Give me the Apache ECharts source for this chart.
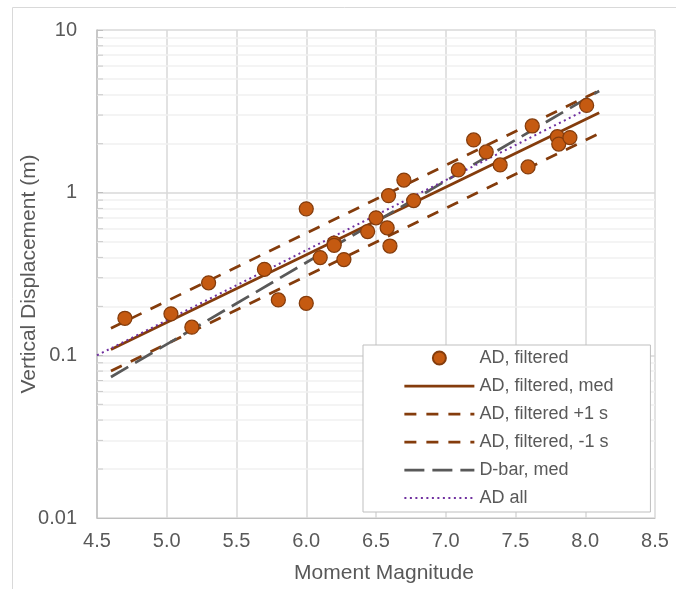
<!DOCTYPE html>
<html>
<head>
<meta charset="utf-8">
<script src="https://cdn.jsdelivr.net/npm/echarts@6/dist/echarts.min.js"></script>
<style>
  html, body { margin: 0; padding: 0; background: #fff; }
  #chart { width: 676px; height: 589px; }
</style>
</head>
<body>
<div id="chart"></div>
<script>
// AD, filtered points (moment magnitude, vertical displacement in m)
const adMw = [4.70, 5.03, 5.18, 5.30, 5.70, 5.80, 6.00, 6.00, 6.10, 6.20, 6.20, 6.27, 6.44, 6.50, 6.58, 6.59, 6.60, 6.70, 6.77, 7.09, 7.20, 7.29, 7.39, 7.59, 7.62, 7.80, 7.81, 7.89, 8.01];
const adDisp = [0.169, 0.180, 0.149, 0.279, 0.338, 0.219, 0.795, 0.209, 0.399, 0.49, 0.475, 0.388, 0.577, 0.700, 0.608, 0.959, 0.47, 1.196, 0.894, 1.38, 2.11, 1.78, 1.48, 1.44, 2.57, 2.21, 1.99, 2.18, 3.44];

// regression lines, read at their two ends
const medLine = [[4.6, 0.1085], [8.1, 3.10]];
const plusLine = [[4.6, 0.1467], [8.1, 4.24]];
const minusLine = [[4.6, 0.080], [8.1, 2.31]];
const dbarLine = [[4.6, 0.0736], [8.1, 4.22]];
const allLine = [[4.5, 0.100], [8.0, 3.22]];

// log axis minor gridlines / ticks
const minorY = [0.02, 0.03, 0.04, 0.05, 0.06, 0.07, 0.08, 0.09,
  0.2, 0.3, 0.4, 0.5, 0.6, 0.7, 0.8, 0.9,
  2, 3, 4, 5, 6, 7, 8, 9];

const font = "'Liberation Sans', Arial, sans-serif";
const textGrey = '#595959';
const brown = '#843c0c';

const styles = {
  med: { color: brown, width: 2.75, type: 'solid' },
  plus: { color: brown, width: 2.75, type: [12, 10] },
  minus: { color: brown, width: 2.75, type: [12, 10] },
  dbar: { color: '#595959', width: 2.75, type: [20, 8] },
  all: { color: '#7030a0', width: 2, type: [2, 3.5] },
};

const chart = echarts.init(document.getElementById('chart'));

const lineSeries = (name, data, lineStyle) => ({
  name,
  type: 'line',
  data,
  symbol: 'none',
  silent: true,
  z: 3,
  lineStyle,
  itemStyle: { color: lineStyle.color },
});

// plain stroke icon for the legend (line + invisible height so it fills the item box)
const lineIcon = 'path://M0,0L70,0M0,-6.5L0,-6.5M0,6.5L0,6.5';
const legendLine = (name, s) => ({
  name,
  icon: lineIcon,
  itemStyle: { color: 'transparent', borderColor: s.color, borderWidth: s.width, borderType: s.type },
});

chart.setOption({
  animation: false,
  textStyle: { fontFamily: font },
  graphic: [{
    type: 'rect',
    shape: { x: 12.5, y: 7.5, width: 700, height: 700 },
    style: { fill: 'none', stroke: '#d9d9d9', lineWidth: 1 },
    silent: true,
  }],
  grid: { left: 97, right: 21, top: 30, bottom: 69 },
  xAxis: {
    type: 'value',
    min: 4.5,
    max: 8.5,
    interval: 0.5,
    name: 'Moment Magnitude',
    nameLocation: 'middle',
    nameGap: 45,
    nameMoveOverlap: false,
    nameTextStyle: { fontSize: 21, color: textGrey, fontFamily: font, padding: [0, 0, 0, 16] },
    axisLine: { show: true, onZero: false, lineStyle: { color: '#bfbfbf' } },
    axisTick: { show: false },
    axisLabel: { fontSize: 20, color: textGrey, margin: 13, formatter: (v) => v.toFixed(1) },
    splitLine: { show: true, lineStyle: { color: '#d9d9d9', width: 1.5 } },
  },
  yAxis: {
    type: 'log',
    logBase: 10,
    min: 0.01,
    max: 10,
    name: 'Vertical Displacement (m)',
    nameLocation: 'middle',
    nameGap: 57,
    nameMoveOverlap: false,
    nameTextStyle: { fontSize: 21, color: textGrey, fontFamily: font },
    axisLine: { show: true, lineStyle: { color: '#bfbfbf', width: 1.5 } },
    axisTick: { show: true, inside: true, length: 6, lineStyle: { color: '#bfbfbf' } },
    axisLabel: { fontSize: 20, color: textGrey, margin: 20, formatter: (v) => String(+v.toPrecision(1)) },
    splitLine: { show: true, lineStyle: { color: '#d9d9d9', width: 1.5 } },
  },
  legend: {
    orient: 'vertical',
    left: 363,
    top: 345,
    z: 10,
    padding: [4, 37, 5, 40],
    itemWidth: 70,
    itemHeight: 13,
    itemGap: 10,
    backgroundColor: '#fff',
    borderColor: '#bfbfbf',
    borderWidth: 1,
    selectedMode: false,
    textStyle: { fontSize: 18, color: textGrey, fontFamily: font },
    data: [
      { name: 'AD, filtered', icon: 'circle' },
      legendLine('AD, filtered, med', styles.med),
      legendLine('AD, filtered +1 s', styles.plus),
      legendLine('AD, filtered, -1 s', styles.minus),
      legendLine('D-bar, med', styles.dbar),
      legendLine('AD all', styles.all),
    ],
  },
  series: [
    {
      name: 'minor',
      type: 'scatter',
      data: minorY.map((v) => [4.5, v]),
      symbol: 'rect',
      symbolSize: [6, 1],
      symbolOffset: [3, 0],
      itemStyle: { color: '#bfbfbf' },
      silent: true,
      z: 1,
      markLine: {
        silent: true,
        z: 1,
        symbol: 'none',
        label: { show: false },
        lineStyle: { color: '#f0f0f0', width: 1.5, type: 'solid' },
        data: minorY.map((v) => ({ yAxis: v })),
      },
    },
    lineSeries('AD, filtered, med', medLine, styles.med),
    lineSeries('AD, filtered +1 s', plusLine, styles.plus),
    lineSeries('AD, filtered, -1 s', minusLine, styles.minus),
    lineSeries('D-bar, med', dbarLine, styles.dbar),
    lineSeries('AD all', allLine, styles.all),
    {
      name: 'AD, filtered',
      type: 'scatter',
      data: adMw.map((m, i) => [m, adDisp[i]]),
      symbol: 'circle',
      symbolSize: 14,
      itemStyle: { color: '#c55a11', borderColor: brown, borderWidth: 1.25, opacity: 1 },
      z: 4,
    },
  ],
});
</script>
</body>
</html>
